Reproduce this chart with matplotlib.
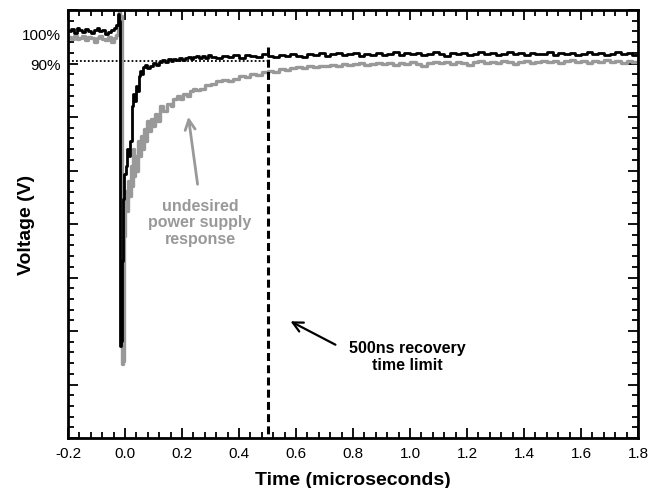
import numpy as np
import matplotlib
matplotlib.use("Agg")
import matplotlib.pyplot as plt
from matplotlib.ticker import FixedLocator, NullFormatter
import matplotlib.transforms as mtransforms

plt.rcParams['font.family'] = ['Liberation Sans', 'DejaVu Sans']

# ---------------- data (time in microseconds, voltage in % of nominal) -------------
black_t = ([round(-0.20 + 0.01 * i, 3) for i in range(18)] +
           [-0.025, -0.021, -0.018, -0.014, -0.010, -0.006, -0.002, 0.003, 0.008, 0.013,
            0.018, 0.023, 0.028, 0.033, 0.038, 0.043, 0.048, 0.053, 0.058, 0.063,
            0.070, 0.078, 0.088, 0.098, 0.108, 0.12, 0.13, 0.14, 0.15, 0.16,
            0.17, 0.18, 0.19, 0.20, 0.21, 0.22, 0.23, 0.24, 0.25, 0.26, 0.27, 0.28, 0.29] +
           [round(0.30 + 0.02 * i, 3) for i in range(76)])
black_v = ([102.0, 102.8, 101.4, 103.2, 102.4, 101.6, 103.0, 102.2, 101.2, 102.6,
            103.4, 102.0, 102.6, 101.0, 101.8, 102.4, 103.2, 104.4] +
           [108.8, 106, -24, -22, 10, 35, 45, 48, 55, 52,
            58, 72, 77, 74, 80, 78, 84, 86, 85, 87.6,
            88.5, 87.4, 88.2, 89.4, 88.6, 89.8, 90.4, 89.6, 90.8, 90.2,
            91.0, 90.4, 91.4, 90.6, 91.2, 91.8, 90.8, 91.6, 92.2, 91.2, 92.0, 91.4, 92.6] +
           [91.8, 91.2, 92.2, 91.6, 92.4, 91.4, 92.6, 92.0, 91.6, 92.8,
            92.2, 91.8, 92.6, 92.0, 93.0, 92.2, 91.6, 92.8, 92.4, 93.2,
            92.0, 92.8, 93.4, 92.4, 92.8, 93.2, 92.2, 93.0, 92.6, 93.4,
            92.4, 93.0, 93.6, 92.6, 93.2, 92.8, 93.4, 92.4, 93.0, 93.6,
            92.8, 92.2, 93.2, 92.8, 93.4, 92.6, 93.0, 93.6, 92.8, 93.2,
            92.4, 93.0, 93.6, 92.8, 93.2, 92.6, 93.4, 92.8, 93.0, 93.6,
            92.6, 93.2, 92.8, 93.4, 92.6, 93.0, 93.6, 92.8, 93.2, 92.4,
            93.0, 93.6, 92.8, 93.2, 92.6, 93.0])

gray_t = ([round(-0.20 + 0.01 * i, 3) for i in range(18)] +
          [-0.025, -0.021, -0.016, -0.012, -0.008, -0.004, 0.000, 0.004, 0.008, 0.012,
           0.016, 0.020, 0.024, 0.028, 0.032, 0.036, 0.040, 0.045, 0.050, 0.055,
           0.060, 0.065, 0.070, 0.077, 0.084, 0.090, 0.097, 0.105, 0.113, 0.123,
           0.133, 0.147, 0.160, 0.170, 0.182, 0.194, 0.204, 0.216, 0.228, 0.240,
           0.250, 0.263, 0.280, 0.300, 0.320, 0.340, 0.360, 0.380, 0.400, 0.420,
           0.440, 0.460, 0.480, 0.500, 0.520, 0.540, 0.560, 0.580, 0.600, 0.620,
           0.640, 0.660, 0.680, 0.700, 0.720, 0.740, 0.760, 0.780] +
          [round(0.80 + 0.02 * i, 3) for i in range(51)])
gray_v = ([99.6, 99.0, 100.2, 98.8, 99.4, 100.0, 98.6, 99.8, 99.2, 97.6,
           99.4, 100.0, 99.0, 98.4, 99.6, 97.8, 99.2, 100.4] +
          [104, 110.4, 108, -31, -30, 20, 35, 38, 30, 42,
           36, 48, 40, 55, 44, 52, 46, 58, 52, 60,
           55, 63, 58, 66, 62, 67, 64, 69, 66, 72,
           70, 73, 72, 75, 76, 75, 77, 76, 78, 79,
           78.5, 79, 80.5, 81, 82, 82.5, 82, 83, 84, 83.6,
           85, 84.6, 85.8, 86, 85.6, 86.8, 86.4, 87.2, 87.6, 87.2,
           88, 87.8, 88.2, 88, 88.6, 88.2, 88.8, 88.4] +
          [88.8, 89.2, 88.6, 89.0, 89.4, 88.8, 89.2, 88.4, 89.4, 89.0,
           89.6, 89.0, 88.2, 89.4, 89.8, 89.2, 89.6, 89.0, 89.8, 89.4,
           88.6, 89.6, 90.0, 89.4, 89.8, 89.2, 90.0, 89.6, 89.0, 89.8,
           90.2, 89.4, 89.8, 90.2, 89.6, 90.0, 89.2, 90.0, 90.4, 89.6,
           90.0, 89.4, 90.2, 89.8, 90.4, 89.6, 90.0, 89.4, 90.2, 89.8, 90.2])

x_ticks = [-0.2, 0.0, 0.2, 0.4, 0.6, 0.8, 1.0, 1.2, 1.4, 1.6, 1.8]
x_ticklabels = ['-0.2', '0.0', '0.2', '0.4', '0.6', '0.8', '1.0', '1.2', '1.4', '1.6', '1.8']
level_values = [100.4, 88.4]
level_labels = ['100%', '90%']
ninety_level = 90.0
limit_time = 0.5

# ---------------- figure ----------------
fig = plt.figure(figsize=(6.6, 4.89), dpi=100)
ax = fig.add_axes([68 / 660, 1 - 439 / 489, (638 - 68) / 660, (439 - 11) / 489])

ymin, ymax = -60.8, 110.4
ax.set_xlim(-0.2, 1.8)
ax.set_ylim(ymin, ymax)

gray = '#999999'
ax.plot(gray_t, gray_v, color=gray, lw=2.4, drawstyle='steps-post', zorder=2)
ax.plot(black_t, black_v, color='black', lw=2.0, drawstyle='steps-post', zorder=3)

# 90% dotted reference
ax.plot([-0.2, limit_time], [ninety_level, ninety_level], color='black', lw=1.3,
        linestyle=(0, (1, 1.2)), zorder=1)
# 500 ns limit dashed line
ax.plot([limit_time, limit_time], [95.6, ymin], color='black', lw=2.2,
        linestyle=(0, (2.6, 1.4)), zorder=4)

# ticks
ax.set_xticks(x_ticks, x_ticklabels)
ax.xaxis.set_minor_locator(FixedLocator(np.arange(-0.2, 1.8001, 0.04)))
ax.yaxis.set_major_locator(FixedLocator(np.linspace(ymin, ymax, 9)))
ax.yaxis.set_minor_locator(FixedLocator(np.linspace(ymin, ymax, 41)))
ax.yaxis.set_major_formatter(NullFormatter())
ax.tick_params(which='both', direction='in', top=True, right=True, width=1.3)
ax.tick_params(which='major', length=7, labelsize=11, pad=6)
ax.tick_params(which='minor', length=4)
for s in ax.spines.values():
    s.set_linewidth(2)

# level labels
trans = mtransforms.blended_transform_factory(ax.transAxes, ax.transData)
for val, lab in zip(level_values, level_labels):
    ax.text(-0.012, val, lab, transform=trans, ha='right', va='center', fontsize=11)

ax.set_xlabel('Time (microseconds)', fontsize=14, fontweight='bold', labelpad=8)
ax.set_ylabel('Voltage (V)', fontsize=14, fontweight='bold', labelpad=18)

# annotations
ax.annotate('', xy=(0.221, 68.8), xytext=(0.256, 39.6),
            arrowprops=dict(arrowstyle='->', color=gray, lw=2, mutation_scale=18))
ax.text(0.263, 25.6, 'undesired\npower supply\nresponse', color=gray, fontsize=11.5,
        fontweight='bold', ha='center', va='center', linespacing=1.1)
ax.annotate('', xy=(0.572, -13.6), xytext=(0.747, -24),
            arrowprops=dict(arrowstyle='->', color='black', lw=1.6, mutation_scale=18))
ax.text(0.989, -28, '500ns recovery\ntime limit', color='black', fontsize=11.5,
        fontweight='bold', ha='center', va='center', linespacing=1.1)

fig.savefig('out.png', dpi=100)
